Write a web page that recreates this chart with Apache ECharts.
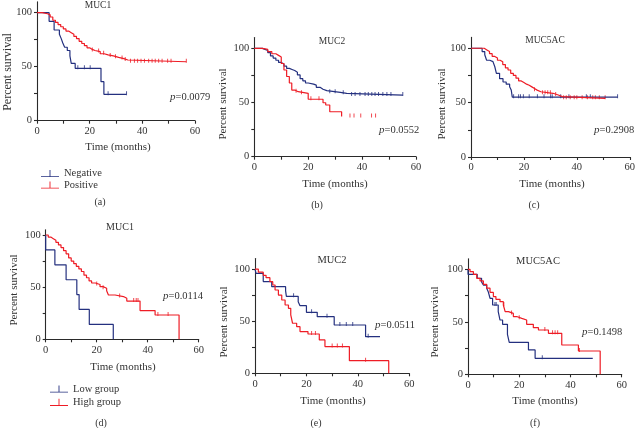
<!DOCTYPE html>
<html>
<head>
<meta charset="utf-8">
<script src="https://cdn.jsdelivr.net/npm/echarts@6/dist/echarts.min.js"></script>
<style>
html, body { margin: 0; padding: 0; background: #fff; }
#chart { width: 638px; height: 428px; }
</style>
</head>
<body>
<div id="chart"></div>
<script>
var blue = '#24307f'
var red = '#ee1c25'
var serif = 'Liberation Serif'

// survival curves: [months, percent survival] after each step
var aNeg = [[0,100],[4.6,92],[6.5,84],[8.5,80],[9.2,76],[9.8,72],[10.5,68],[11.5,65],[12.5,60],[13,53],[14.5,48.5],[24.3,36.1],[25.4,24.4],[34,24.4]]
var aPos = [[0,100],[2,99],[4,98],[5,96],[6,93],[7,91],[8,89],[9,87],[10,85],[11,83],[12,81.5],[13,80],[14,78],[15,76],[16,73.5],[17,71.5],[18,69.5],[19,67.5],[20,66],[21,65],[22,64],[24,62],[25.5,61],[27,60],[29,58.7],[31,57.5],[33,56.2],[34.5,55],[35,54.6],[56.7,54.6]]
var bNeg = [[0,100],[3,99],[4,98],[5,96],[6,93],[7,91],[8,89],[9,87],[10,85.5],[11,83.5],[12,81.5],[13,80.5],[14,79.5],[15,78],[16,75.5],[17,72],[18,70],[19,68],[20,67],[22,66],[23,64],[24.4,62.2],[25.5,61],[26.9,59.4],[31.9,58.5],[34.3,58],[34.9,56.9],[55.1,56.9]]
var bPos = [[0,100],[3,99],[5,97],[6.5,95],[8,93.5],[9,92],[10,86],[11,80],[12,74],[13,68],[13.9,61.5],[15,60],[16.3,58.5],[20,53],[25.5,49.8],[26.5,47.7],[28,41.5],[32.4,37]]
var cNeg = [[0,100],[4.2,97],[5.2,94],[5.9,89],[7.1,87.7],[8.3,86],[9,83],[9.6,77],[10.8,72],[12.1,69],[13.3,67],[14.6,64.7],[15.2,61.7],[15.6,55],[55.4,55]]
var cPos = [[0,100],[5,98.5],[6,97],[7,95],[8,92.5],[9,91],[10,89],[11,87.5],[12,85],[13,82],[14,80],[15,77],[16,75],[17,72.5],[18,70],[19,68.5],[20,67],[21,66],[22,64.5],[23,63],[24,61.5],[25,60],[26.4,58.6],[31,57],[33,55.5],[34.5,54],[50.7,54]]
var dLow = [[0,100],[0,85.7],[3.6,71.4],[8,57.1],[12.2,42.9],[13.1,28.6],[17.1,14.3],[26.5,0]]
var dHigh = [[0,100],[1,98],[2,96.5],[3,95],[4,93],[5,90.5],[6,88],[7,85],[8,82],[9,78],[10,75],[11,72.5],[12,70],[13,67.5],[14,65],[15,61.5],[16,59],[17,56],[18,54],[19.5,52.5],[21.3,50.5],[22.5,49],[23.9,46.6],[24.6,42.5],[27.2,41],[30.5,39.3],[31.8,36.7],[37,27.5],[42.9,23.3],[52.3,0]]
var eLow = [[0,100],[0.4,95.8],[3.2,88],[6.5,83.1],[11.9,79],[12.2,73.8],[16.8,68.7],[17.5,64.9],[20,58.5],[24.2,54.3],[30.8,46.3],[43,35.1],[48.6,35.1]]
var eHigh = [[0,100],[1.3,97],[3.2,94],[4.3,91.7],[5.8,87.9],[6.9,84.7],[7.8,79.9],[9.1,75],[10.4,70.3],[11.7,65.5],[13,62.3],[13.9,56],[14.6,48],[16.2,44.7],[17.5,40],[20.6,37.7],[25,32],[27.2,25.6],[36.7,12.1],[52,0]]
var fLow = [[0,100],[0,95.2],[3.6,91.4],[5.3,88],[6,85],[7.3,82],[7.9,78.7],[8.6,72.4],[9.6,66],[11.8,59.7],[12.5,51.7],[13.5,47.6],[15.4,38],[16.1,30.5],[23.6,23.2],[26.2,15.2],[48.7,15.2]]
var fHigh = [[0,100],[0.8,97.8],[2.1,95.2],[3.4,91.4],[4.7,88.9],[6,85.7],[7.3,82],[8.6,78],[9.9,74],[10.9,71.4],[12.5,69.2],[13.8,66],[14.5,59.7],[15.8,58],[17.7,55],[19,53.3],[21,51.7],[22.9,47.6],[25.5,44.4],[27.5,42.2],[31.4,39],[36.6,27.9],[43.1,22.2],[51.6,0]]

// censored times (months)
var aNegCens = [15.5, 18, 20.2, 27, 34]
var aPosCens = [21, 23.4, 25.3, 27.8, 29.8, 32.3, 33.5, 35.5, 37, 38.2, 39.5, 40.8, 42.4, 43.7, 44.9, 46.2, 47.5, 49.6, 50.9, 56.7]
var bNegCens = [28, 30, 33, 36.1, 37.4, 39.2, 41.1, 42.3, 43.6, 44.8, 46.1, 47.7, 49.2, 50.7, 55.1]
var bPosCens = [15.5, 17.5, 21, 24, 35.5, 37, 39.5, 43.5, 45]
var cNegCens = [16.1, 18, 18.7, 19.8, 22, 25.1, 27.6, 30.1, 30.7, 33.9, 37, 43.6, 45.1, 55.4]
var cPosCens = [24, 27, 28, 29, 30, 32, 35, 36, 37.5, 39, 40, 42, 44, 46, 47, 48.5, 50.7]
var dLowCens = []
var dHighCens = [20, 22.5, 29, 34.5, 35.5, 36.2, 44, 48]
var eLowCens = [15, 22, 28, 33, 35.5, 38, 44]
var eHighCens = [22, 23.5, 30, 32, 34, 43]
var fLowCens = [10.5, 11, 29]
var fHighCens = [14, 17, 20, 30, 33, 34, 35, 43.5]

var titles = ['MUC1', 'MUC2', 'MUC5AC', 'MUC1', 'MUC2', 'MUC5AC']
var pValues = ['0.0079', '0.0552', '0.2908', '0.0114', '0.0511', '0.1498']
var panelTags = ['(a)', '(b)', '(c)', '(d)', '(e)', '(f)']
var xTicks = [0, 10, 20, 30, 40, 50, 60]
var xLabels = [0, 20, 40, 60]
var yTicks = [0, 25, 50, 75, 100]
var yLabels = [0, 50, 100]

var curves = [
  [aNeg, aNegCens, aPos, aPosCens, 'Negative', 'Positive'],
  [bNeg, bNegCens, bPos, bPosCens, 'Negative', 'Positive'],
  [cNeg, cNegCens, cPos, cPosCens, 'Negative', 'Positive'],
  [dLow, dLowCens, dHigh, dHighCens, 'Low group', 'High group'],
  [eLow, eLowCens, eHigh, eHighCens, 'Low group', 'High group'],
  [fLow, fLowCens, fHigh, fHighCens, 'Low group', 'High group']
]

// layout of each panel (pixels)
var panels = [
  { left: 37, top: 1.9, width: 158, height: 118.8, ymax: 110, title: [98, 5, 9.5], p: [170, 97], yName: [8, 72, 12], xName: [118, 147], tag: [100, 202] },
  { left: 254.3, top: 37.5, width: 161.7, height: 119.2, ymax: 110, title: [332, 41, 9.5], p: [379, 130], yName: [223, 104, 11], xName: [335, 184], tag: [317, 205] },
  { left: 471, top: 37.4, width: 161, height: 119.6, ymax: 110, title: [545, 40, 9.5], p: [594, 130], yName: [442, 104, 11], xName: [552, 184], tag: [534, 205] },
  { left: 45.7, top: 229.8, width: 153, height: 109.5, ymax: 105, title: [120, 227, 10], p: [163, 296], yName: [14, 290, 11], xName: [123, 367], tag: [101, 423] },
  { left: 255, top: 258.6, width: 154.3, height: 114.7, ymax: 110, title: [332, 260, 10.5], p: [375, 325], yName: [224, 322, 11], xName: [333, 401], tag: [316, 423] },
  { left: 468, top: 258.8, width: 153.7, height: 115.5, ymax: 110, title: [538, 261, 10.5], p: [582, 332], yName: [435, 322, 11], xName: [545, 401], tag: [535, 423] }
]

function stepAt(curve, t) {
  var s = curve[0][1]
  for (var i = 0; i < curve.length; i++) {
    if (curve[i][0] <= t) s = curve[i][1]
  }
  return s
}

function censorPoints(curve, times) {
  return times.map(function (t) { return [t, stepAt(curve, t)] })
}

var grids = []
var xAxes = []
var yAxes = []
var series = []
var graphics = []

panels.forEach(function (p, i) {
  grids.push({ left: p.left, top: p.top, width: p.width, height: p.height })
  var axisStyle = { color: '#2a2a2a', width: 1.1 }
  xAxes.push({
    type: 'value', gridIndex: i, min: 0, max: 60,
    axisLine: { show: true, onZero: false, lineStyle: axisStyle },
    axisTick: { show: true, customValues: xTicks, length: 3, lineStyle: axisStyle },
    axisLabel: { customValues: xLabels, fontFamily: serif, fontSize: 10.5, color: '#333', margin: 5 },
    splitLine: { show: false }
  })
  yAxes.push({
    type: 'value', gridIndex: i, min: 0, max: p.ymax,
    axisLine: { show: true, lineStyle: axisStyle },
    axisTick: { show: true, customValues: yTicks, length: 3, lineStyle: axisStyle },
    axisLabel: { customValues: yLabels, fontFamily: serif, fontSize: 10.5, color: '#333', margin: 5 },
    splitLine: { show: false }
  })
  var c = curves[i]
  var groups = [[c[0], c[1], c[4], blue], [c[2], c[3], c[5], red]]
  groups.forEach(function (g) {
    series.push({
      name: g[2], type: 'line', step: 'end', xAxisIndex: i, yAxisIndex: i,
      data: g[0], showSymbol: false, silent: true,
      lineStyle: { color: g[3], width: 1.2 }, itemStyle: { color: g[3] }
    })
    series.push({
      name: g[2], type: 'scatter', xAxisIndex: i, yAxisIndex: i,
      data: censorPoints(g[0], g[1]), symbol: 'rect', symbolSize: [1, 4], symbolOffset: [0, -1], silent: true,
      itemStyle: { color: g[3] }
    })
  })

  var txt = { fontFamily: serif, fontWeight: 'normal', fill: '#333' }
  graphics.push({ type: 'text', x: p.title[0], y: p.title[1],
    style: Object.assign({ text: titles[i], fontSize: p.title[2], align: 'center', verticalAlign: 'middle' }, txt) })
  graphics.push({ type: 'text', x: p.p[0], y: p.p[1],
    style: Object.assign({ text: '{i|p}=' + pValues[i], fontSize: 10.5, align: 'left', verticalAlign: 'middle',
      rich: { i: { fontStyle: 'italic', fontFamily: serif, fontSize: 11 } } }, txt) })
  graphics.push({ type: 'text', x: p.yName[0], y: p.yName[1], rotation: Math.PI / 2,
    style: Object.assign({ text: 'Percent survival', fontSize: p.yName[2], align: 'center', verticalAlign: 'middle' }, txt) })
  graphics.push({ type: 'text', x: p.xName[0], y: p.xName[1],
    style: Object.assign({ text: 'Time (months)', fontSize: 11, align: 'center', verticalAlign: 'middle' }, txt) })
  graphics.push({ type: 'text', x: p.tag[0], y: p.tag[1],
    style: Object.assign({ text: panelTags[i], fontSize: 10, align: 'center', verticalAlign: 'middle' }, txt) })
})

var legendIcon = 'path://M0,9H20V10H0Z M9.5,2H10.5V9.5H9.5Z'
var legendText = { fontFamily: serif, fontSize: 10.5, color: '#333', lineHeight: 11 }

var chart = echarts.init(document.getElementById('chart'))
var option = {
  animation: false,
  backgroundColor: '#fff',
  grid: grids,
  xAxis: xAxes,
  yAxis: yAxes,
  legend: [
    { data: ['Negative', 'Positive'], orient: 'vertical', left: 36, top: 163, itemWidth: 18, itemHeight: 7.2,
      itemGap: 0.5, icon: legendIcon, textStyle: legendText, selectedMode: false },
    { data: ['Low group', 'High group'], orient: 'vertical', left: 45, top: 378.5, itemWidth: 18, itemHeight: 7.2,
      itemGap: 2.3, icon: legendIcon, textStyle: legendText, selectedMode: false }
  ],
  series: series,
  graphic: graphics
}
chart.setOption(option)
</script>
</body>
</html>
